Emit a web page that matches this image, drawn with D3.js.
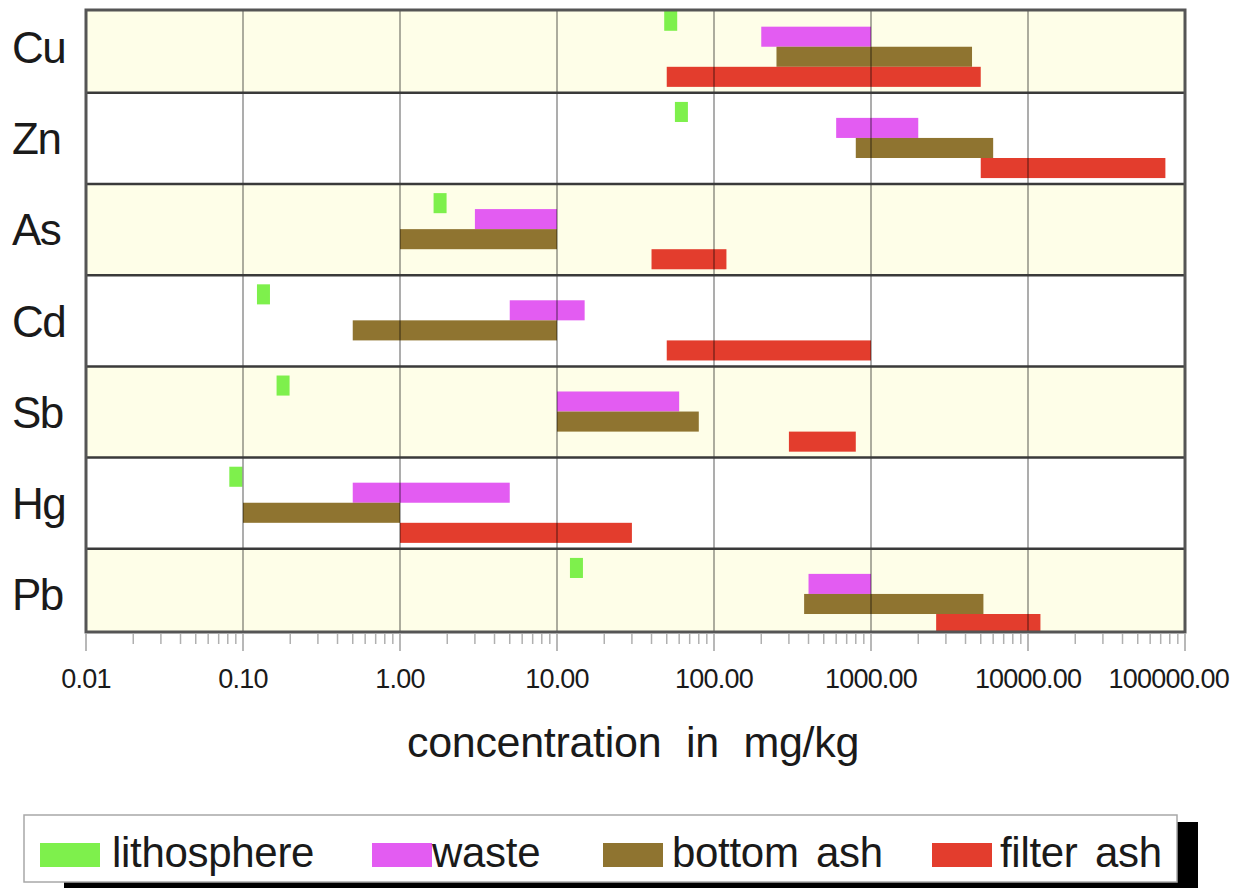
<!DOCTYPE html>
<html>
<head>
<meta charset="utf-8">
<script src="https://cdn.jsdelivr.net/npm/d3@7"></script>
<style>
  html, body { margin: 0; padding: 0; background: #ffffff; }
  svg { display: block; }
  text { font-family: "Liberation Sans", Arial, Helvetica, sans-serif; fill: #1a1a1a; }
</style>
</head>
<body>
<script>
// ---- data ----
const categories = ["Cu", "Zn", "As", "Cd", "Sb", "Hg", "Pb"];
const seriesNames = ["lithosphere", "waste", "bottom ash", "filter ash"];
const seriesColors = ["#7ef04c", "#e35cf2", "#8f7430", "#e33d2d"];
const lithosphere = [53, 62, 1.8, 0.135, 0.18, 0.09, 13.3];
const waste = [[200, 1000], [600, 2000], [3, 10], [5, 15], [10, 60], [0.5, 5], [400, 1000]];
const bottomAsh = [[250, 4400], [800, 6000], [1, 10], [0.5, 10], [10, 80], [0.1, 1], [375, 5200]];
const filterAsh = [[50, 5000], [5000, 75000], [40, 120], [50, 1000], [300, 800], [1, 30], [2600, 12000]];
const tickValues = [0.01, 0.1, 1, 10, 100, 1000, 10000, 100000];
const tickLabels = ["0.01", "0.10", "1.00", "10.00", "100.00", "1000.00", "10000.00", "100000.00"];
const axisTitle = "concentration in mg/kg";

// ---- layout ----
const W = 1245, H = 888;
const plot = { left: 86, right: 1185, top: 10, bottom: 632 };

const svg = d3.select("body").append("svg").attr("width", W).attr("height", H);

const x = d3.scaleLog().domain([0.01, 100000]).range([plot.left, plot.right]);
const y = d3.scaleBand().domain(categories).range([1.6, 640]).paddingInner(0).paddingOuter(0);
const sub = d3.scaleBand().domain(seriesNames).range([0.055, 0.935]); // fraction of row

svg.append("clipPath").attr("id", "plotclip")
  .append("rect")
  .attr("x", plot.left).attr("y", plot.top)
  .attr("width", plot.right - plot.left).attr("height", plot.bottom - plot.top);

const g = svg.append("g").attr("clip-path", "url(#plotclip)");

// row backgrounds
g.selectAll("rect.row").data(categories).join("rect")
  .attr("class", "row")
  .attr("x", plot.left).attr("width", plot.right - plot.left)
  .attr("y", d => y(d)).attr("height", y.bandwidth())
  .attr("fill", (d, i) => i % 2 === 0 ? "#fefee8" : "#ffffff");

const bw = y.bandwidth();
function rangeBars(data, name, color) {
  g.selectAll("rect.s" + name.replace(" ", "")).data(data).join("rect")
    .attr("x", d => x(d[0]))
    .attr("width", d => x(d[1]) - x(d[0]))
    .attr("y", (d, i) => y(categories[i]) + sub(name) * bw)
    .attr("height", sub.bandwidth() * bw)
    .attr("fill", color);
}
rangeBars(waste, "waste", seriesColors[1]);
rangeBars(bottomAsh, "bottom ash", seriesColors[2]);
rangeBars(filterAsh, "filter ash", seriesColors[3]);

// lithosphere markers (narrow marks centered on the value)
const markW = 13;
g.selectAll("rect.litho").data(lithosphere).join("rect")
  .attr("class", "litho")
  .attr("x", d => x(d) - markW / 2)
  .attr("width", markW)
  .attr("y", (d, i) => y(categories[i]) + (sub("lithosphere") + 0.045) * bw)
  .attr("height", sub.bandwidth() * bw)
  .attr("fill", seriesColors[0]);

// vertical gridlines (drawn over bars)
svg.selectAll("line.vgrid").data(tickValues.slice(1, -1)).join("line")
  .attr("class", "vgrid")
  .attr("x1", d => x(d)).attr("x2", d => x(d))
  .attr("y1", plot.top).attr("y2", plot.bottom)
  .attr("stroke", "rgba(0,0,0,0.32)").attr("stroke-width", 2);

// horizontal row separators
svg.selectAll("line.hsep").data(categories.slice(1)).join("line")
  .attr("class", "hsep")
  .attr("x1", plot.left).attr("x2", plot.right)
  .attr("y1", d => y(d)).attr("y2", d => y(d))
  .attr("stroke", "#3a3a3a").attr("stroke-width", 2.5);

// plot border
svg.append("rect")
  .attr("x", plot.left).attr("y", plot.top)
  .attr("width", plot.right - plot.left).attr("height", plot.bottom - plot.top)
  .attr("fill", "none").attr("stroke", "#555").attr("stroke-width", 3);

// x axis ticks (major + minor)
const minor = [];
for (let e = -2; e < 5; e++) for (let m = 2; m <= 9; m++) minor.push(m * Math.pow(10, e));
const axisG = svg.append("g").attr("transform", `translate(0,${plot.bottom + 2})`);
axisG.selectAll("line.minor").data(minor).join("line")
  .attr("x1", d => x(d)).attr("x2", d => x(d))
  .attr("y1", 0).attr("y2", 10)
  .attr("stroke", "#b0b0b0").attr("stroke-width", 1.5);
axisG.selectAll("line.major").data(tickValues).join("line")
  .attr("x1", d => x(d)).attr("x2", d => x(d))
  .attr("y1", 0).attr("y2", 17)
  .attr("stroke", "#a0a0a0").attr("stroke-width", 1.5);

const labelRight = 1229;
svg.selectAll("text.tick").data(tickValues).join("text")
  .attr("class", "tick")
  .attr("y", 688)
  .attr("font-size", 27)
  .attr("letter-spacing", -0.8)
  .attr("text-anchor", "middle")
  .attr("x", d => x(d))
  .text((d, i) => tickLabels[i])
  .each(function () {
    const w = this.getComputedTextLength();
    const cx = +this.getAttribute("x");
    if (cx + w / 2 > labelRight) this.setAttribute("x", labelRight - w / 2);
  });

// axis title
svg.append("text")
  .attr("x", 633).attr("y", 757)
  .attr("text-anchor", "middle")
  .attr("font-size", 43)
  .attr("word-spacing", 13)
  .attr("letter-spacing", -0.3)
  .text(axisTitle);

// row labels
svg.selectAll("text.cat").data(categories).join("text")
  .attr("class", "cat")
  .attr("x", 12)
  .attr("y", d => y(d) + bw / 2)
  .attr("dy", "0.36em")
  .attr("font-size", 44)
  .attr("letter-spacing", -1.5)
  .text(d => d);

// legend
const leg = { x: 24, y: 815, w: 1153, h: 67 };
svg.append("rect").attr("x", 64).attr("y", 822).attr("width", 1134).attr("height", 80).attr("fill", "#000");
svg.append("rect").attr("x", leg.x).attr("y", leg.y).attr("width", leg.w).attr("height", leg.h)
  .attr("fill", "#fff").attr("stroke", "#a8a8a8").attr("stroke-width", 1.5);
const swatchX = [40, 372, 603, 932];
const textX = [112, 432, 672, 1000];
const legG = svg.append("g");
legG.selectAll("rect.sw").data(seriesNames).join("rect")
  .attr("x", (d, i) => swatchX[i]).attr("y", 843)
  .attr("width", 60).attr("height", 24)
  .attr("fill", (d, i) => seriesColors[i]);
legG.selectAll("text.lt").data(seriesNames).join("text")
  .attr("x", (d, i) => textX[i]).attr("y", 867)
  .attr("font-size", 42)
  .attr("word-spacing", 6)
  .attr("letter-spacing", -0.3)
  .text(d => d);
</script>
</body>
</html>
